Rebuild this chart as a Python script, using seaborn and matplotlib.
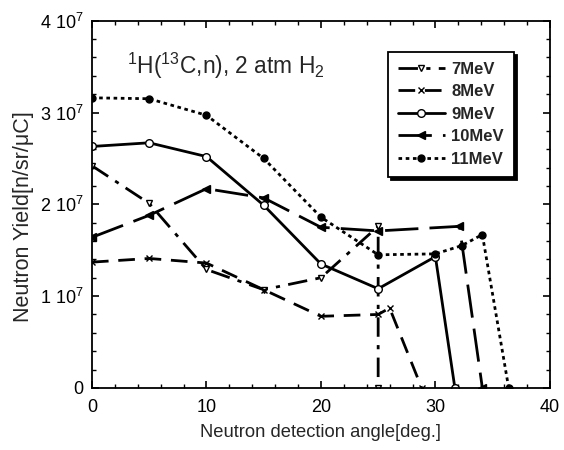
import matplotlib
matplotlib.use("Agg")
import matplotlib.pyplot as plt
import seaborn as sns
import pandas as pd
from matplotlib.ticker import MultipleLocator

sns.set_theme(style="ticks")
plt.rcParams['font.family'] = ['Liberation Sans', 'DejaVu Sans']
plt.rcParams['mathtext.fontset'] = 'custom'
plt.rcParams['mathtext.rm'] = 'Liberation Sans'
plt.rcParams['mathtext.it'] = 'Liberation Sans'

# data (angle in deg, yield in n/sr/uC)
x7 = [0, 5, 10, 15, 20, 25, 25]
y7 = [2.42e7, 2.01e7, 1.29e7, 1.07e7, 1.20e7, 1.76e7, 0]
x8 = [0, 5, 10, 15, 20, 25, 26, 28.8]
y8 = [1.37e7, 1.41e7, 1.36e7, 1.07e7, 0.78e7, 0.80e7, 0.87e7, 0]
x9 = [0, 5, 10, 15, 20, 25, 30, 31.7]
y9 = [2.63e7, 2.67e7, 2.52e7, 1.99e7, 1.35e7, 1.08e7, 1.43e7, 0]
x10 = [0, 5, 10, 15, 20, 25, 32.1, 34.1]
y10 = [1.64e7, 1.88e7, 2.17e7, 2.07e7, 1.75e7, 1.71e7, 1.76e7, 0]
x11 = [0, 5, 10, 15, 20, 25, 30, 32.3, 34.1, 36.4]
y11 = [3.16e7, 3.15e7, 2.97e7, 2.50e7, 1.86e7, 1.45e7, 1.46e7, 1.55e7, 1.67e7, 0]
labels = ["7MeV", "8MeV", "9MeV", "10MeV", "11MeV"]
yticks = [0, 1e7, 2e7, 3e7, 4e7]
ytick_labels = ["0", "1 10$^7$", "2 10$^7$", "3 10$^7$", "4 10$^7$"]

series = [(x7, y7), (x8, y8), (x9, y9), (x10, y10), (x11, y11)]
styles = [
    dict(ls=(0, (7, 3, 1.5, 3)), marker='v', mfc='white', ms=5),
    dict(ls=(0, (6, 3.5)), marker='x', mfc='black', ms=5),
    dict(ls='-', marker='o', mfc='white', ms=5.5),
    dict(ls=(0, (12, 4)), marker='<', mfc='black', ms=5.5),
    dict(ls=(0, (1.3, 1.3)), marker='o', mfc='black', ms=5),
]

fig = plt.figure(figsize=(5.64, 4.5), dpi=100)
ax = fig.add_axes([0.163, 0.138, 0.812, 0.816])

for (xs, ys), lab, st in zip(series, labels, styles):
    df = pd.DataFrame({"angle": xs, "yield": ys})
    sns.lineplot(data=df, x="angle", y="yield", ax=ax, sort=False, estimator=None,
                 color='black', linestyle=st['ls'], linewidth=2.0,
                 marker=st['marker'], markersize=st['ms'], markerfacecolor=st['mfc'],
                 markeredgecolor='black', markeredgewidth=1.0, label=lab)

ax.set_xlim(0, 40)
ax.set_ylim(0, 4e7)
ax.set_xticks([0, 10, 20, 30, 40])
ax.xaxis.set_minor_locator(MultipleLocator(2))
ax.set_yticks(yticks)
ax.set_yticklabels(ytick_labels)
ax.yaxis.set_minor_locator(MultipleLocator(2e6))
ax.tick_params(which='both', direction='in', top=True, right=True, labelsize=13, colors='black')
ax.tick_params(axis='x', which='major', pad=8)
ax.tick_params(axis='y', which='major', pad=6)
ax.tick_params(which='major', length=5, width=1.2)
ax.tick_params(which='minor', length=3, width=1.0)
for sp in ax.spines.values():
    sp.set_linewidth(1.3)
    sp.set_color('black')

ax.set_xlabel("Neutron detection angle[deg.]", fontsize=13.2, labelpad=6)
ax.set_ylabel("Neutron Yield[n/sr/\u03bcC]", fontsize=15.5)
ax.yaxis.set_label_coords(-0.127, 0.467)

ax.text(3.05, 3.42e7, "$^{1}$H($^{13}$C,n), 2 atm H$_{2}$", fontsize=16.4)

leg = ax.legend(loc='upper left', bbox_to_anchor=(0.628, 0.938), frameon=True,
                fancybox=False, shadow={'color': 'black', 'alpha': 1.0},
                edgecolor='black', handlelength=2.8, handletextpad=0.4,
                prop={'weight': 'bold', 'size': 12}, borderpad=0.6, labelspacing=0.45)
leg.get_frame().set_linewidth(1.3)

fig.savefig("out.png", dpi=100)
